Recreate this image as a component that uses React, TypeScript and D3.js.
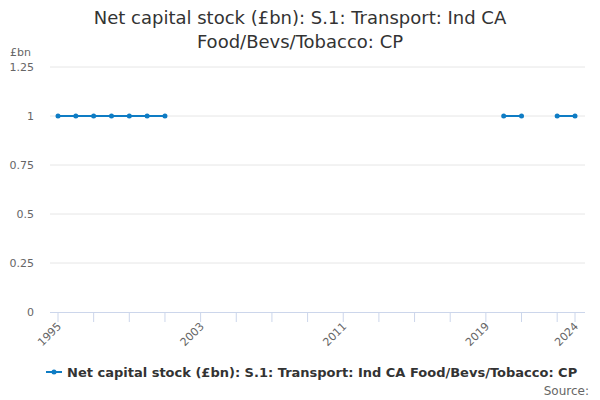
import React from 'react';
import * as d3 from 'd3';

const years: number[] = d3.range(1995, 2025);
// values per year, null where there is no data
const values: (number | null)[] = [
  1, 1, 1, 1, 1, 1, 1,
  null, null, null, null, null, null, null, null, null,
  null, null, null, null, null, null, null, null, null,
  1, 1, null, 1, 1,
];
const yTicks = [0, 0.25, 0.5, 0.75, 1, 1.25];
const xLabelYears = [1995, 2003, 2011, 2019, 2024];
const seriesName = 'Net capital stock (£bn): S.1: Transport: Ind CA Food/Bevs/Tobacco: CP';
const titleLines = ['Net capital stock (£bn): S.1: Transport: Ind CA', 'Food/Bevs/Tobacco: CP'];

const W = 600;
const H = 400;
const color = '#0e7cc4';
const font = 'DejaVu Sans, sans-serif';

export default function App() {
  const x = d3.scaleLinear().domain([1995, 2024]).range([58, 575]);
  const y = d3.scaleLinear().domain([0, 1.25]).range([312, 67]);

  const points = years.map((yr, i) => ({ yr, v: values[i] }));
  const line = d3.line<{ yr: number; v: number | null }>()
    .defined(d => d.v !== null)
    .x(d => x(d.yr))
    .y(d => y(d.v as number));

  const tickYears = [...d3.range(1995, 2024, 2), 2024];

  return (
    <svg width={W} height={H} style={{ position: 'absolute', left: 0, top: 0, fontFamily: font }}>
      <rect width={W} height={H} fill="#fff" />
      {/* title */}
      {titleLines.map((t, i) => (
        <text key={i} x={W / 2} y={24 + i * 24} textAnchor="middle" fontSize={18} fill="#333">{t}</text>
      ))}
      <text x={10} y={56} fontSize={11} fill="#666">£bn</text>

      {/* grid + y labels */}
      {yTicks.map(t => (
        <g key={t}>
          {t !== 0 && <line x1={50} x2={585} y1={y(t)} y2={y(t)} stroke="#e6e6e6" />}
          <text x={34} y={y(t) + 4} textAnchor="end" fontSize={11} fill="#666">{t}</text>
        </g>
      ))}

      {/* x axis */}
      <line x1={50} x2={585} y1={y(0) + 0.5} y2={y(0) + 0.5} stroke="#ccd6eb" />
      {tickYears.map(yr => (
        <line key={yr} x1={x(yr)} x2={x(yr)} y1={y(0)} y2={y(0) + 10} stroke="#ccd6eb" />
      ))}
      {xLabelYears.map(yr => (
        <text key={yr} transform={`translate(${x(yr) + 4},${y(0) + 15}) rotate(-45)`}
          textAnchor="end" fontSize={11} fill="#666">{yr}</text>
      ))}

      {/* series */}
      <path d={line(points) || ''} fill="none" stroke={color} strokeWidth={2} />
      {points.filter(p => p.v !== null).map(p => (
        <circle key={p.yr} cx={x(p.yr)} cy={y(p.v as number)} r={2.5} fill={color} />
      ))}

      {/* legend */}
      <line x1={46} x2={62} y1={372} y2={372} stroke={color} strokeWidth={2} />
      <circle cx={54} cy={372} r={2.5} fill={color} />
      <text x={67} y={377} fontSize={13} fontWeight="bold" fill="#333">{seriesName}</text>
      <text x={589} y={395} textAnchor="end" fontSize={12} fill="#666">Source:</text>
    </svg>
  );
}
